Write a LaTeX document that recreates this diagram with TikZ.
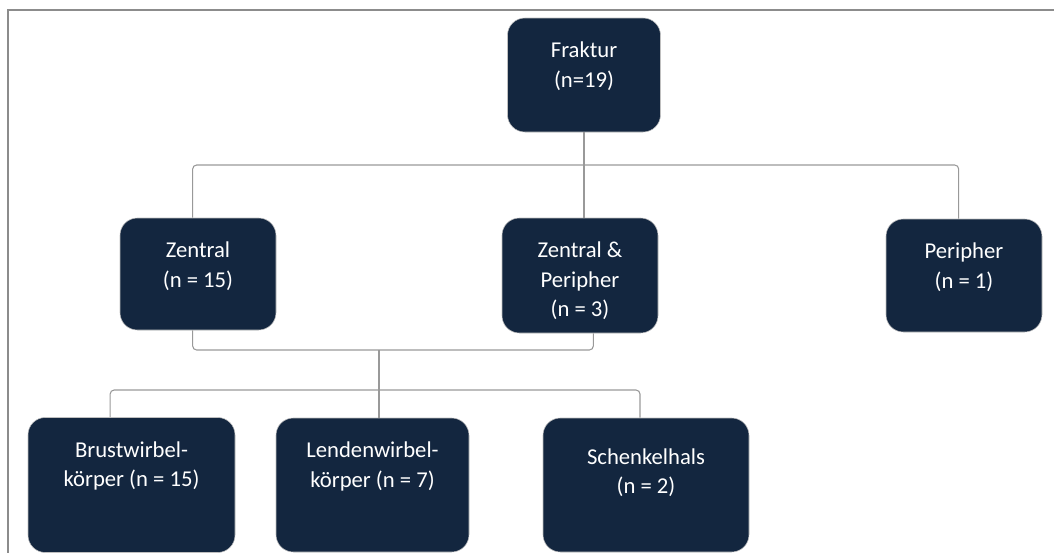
\documentclass[tikz,border=0pt]{standalone}
\usepackage{fontspec}
\setmainfont{Carlito}
\usetikzlibrary{positioning}
\definecolor{Navy}{HTML}{13263F}
\colorlet{Wire}{black!40}
\colorlet{Frame}{black!45}
\newdimen\px
\px=0.75pt

\begin{document}
\begin{tikzpicture}[
  x=0.75pt, y=-0.75pt,
  catbox/.style={rectangle, rounded corners=13pt, fill=Navy, draw=black!25, line width=0.4pt, inner sep=0pt},
  cattext/.style={text=white, font=\fontsize{17}{22}\selectfont, align=center, inner sep=0pt, anchor=north},
  wire/.style={draw=Wire, line width=0.8pt, rounded corners=3pt}
]
\useasboundingbox (0,0) rectangle (1054,553);
\draw[Frame, line width=1.5pt] (8,553) -- (8,10) -- (1054,10);

% boxes
\node[catbox, minimum width=153\px, minimum height=114\px] (frak) at (584,75) {};
\node[catbox, minimum width=156\px, minimum height=112\px] (zen) at (198,274) {};
\node[catbox, minimum width=156\px, minimum height=115\px] (zp) at (580,275.5) {};
\node[catbox, minimum width=156\px, minimum height=113\px] (per) at (964,275.5) {};
\node[catbox, minimum width=207\px, minimum height=135\px] (brust) at (131.5,485) {};
\node[catbox, minimum width=193\px, minimum height=134\px] (lend) at (372.5,485) {};
\node[catbox, minimum width=206\px, minimum height=134\px] (schenk) at (646,485) {};

% texts
\node[cattext] (frak-t) at ([yshift=-18pt]frak.north) {Fraktur\\(n=19)};
\node[cattext] (zen-t) at ([yshift=-18pt]zen.north) {Zentral\\(n = 15)};
\node[cattext] (zp-t) at ([yshift=-18pt]zp.north) {Zentral \&\\Peripher\\(n = 3)};
\node[cattext] (per-t) at ([yshift=-18pt]per.north) {Peripher\\(n = 1)};
\node[cattext] (brust-t) at ([yshift=-18pt]brust.north) {Brustwirbel-\\k\"orper (n = 15)};
\node[cattext] (lend-t) at ([yshift=-18pt]lend.north) {Lendenwirbel-\\k\"orper (n = 7)};
\node[cattext] (schenk-t) at ([yshift=-23pt]schenk.north) {Schenkelhals\\(n = 2)};

% connectors
\coordinate (bus1) at (frak.south |- 0,165);
\draw[wire] (frak.south) -- (frak.south |- zp.north);
\draw[wire] ([xshift=-4pt]zen.north) |- (bus1) -| ([xshift=-4pt]per.north);

\coordinate (bus2) at (379,350);
\draw[wire] ([xshift=-4pt]zen.south) |- (bus2) -| ([xshift=10pt]zp.south);
\draw[wire] (bus2) -- (bus2 |- lend.north);

\coordinate (bus3) at (379,390);
\draw[wire] ([xshift=-16pt]brust.north) |- (bus3) -| ([xshift=-4.5pt]schenk.north);
\end{tikzpicture}
\end{document}
